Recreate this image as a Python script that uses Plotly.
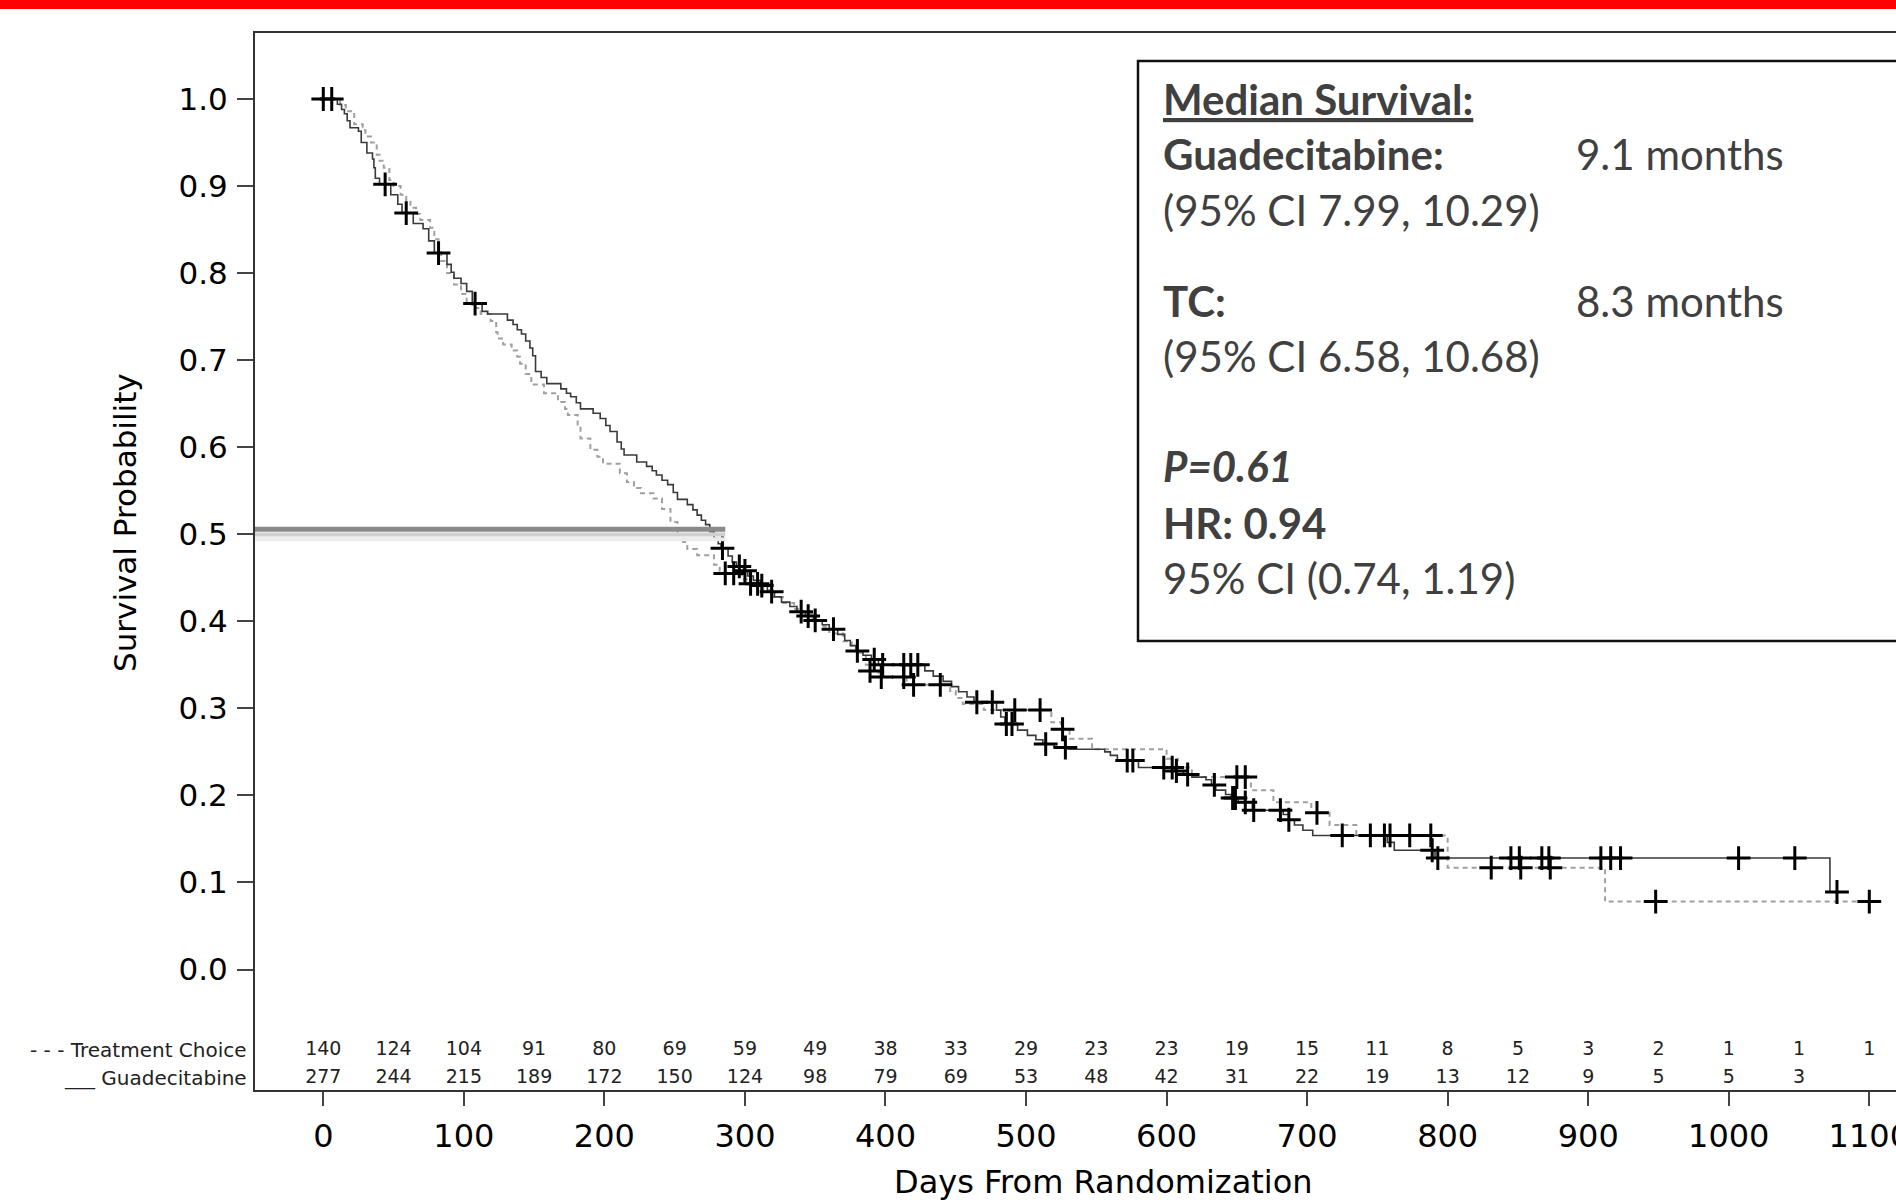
import plotly.graph_objects as go

# ---------------- data ----------------
GUAD_T = [0, 10, 13, 15, 17, 19, 25, 27, 31, 35, 36, 37, 40, 48, 53, 56, 64, 71, 75, 79,
          88, 91, 93, 98, 102, 106, 113, 117, 131, 135, 138, 141, 144, 147, 149, 151, 155, 159,
          169, 173, 176, 180, 183, 192, 197, 201, 204, 209, 212, 214, 223, 230, 234, 237, 241,
          245, 249, 252, 259, 263, 266, 269, 272, 275, 278, 281, 283, 288, 291, 294, 299, 302,
          306, 311, 316, 321, 326, 332, 337, 343, 349, 355, 360, 366, 371, 375, 379, 384, 390,
          395, 428, 434, 441, 447, 452, 458, 463, 479, 482, 485, 494, 501, 507, 512, 520, 530,
          556, 560, 565, 580, 606, 612, 618, 628, 632, 635, 642, 646, 651, 661, 683, 687, 691,
          697, 704, 757, 762, 791, 1072]
GUAD_S = [1.000, 0.994, 0.988, 0.983, 0.975, 0.967, 0.963, 0.950, 0.938, 0.931, 0.921, 0.909,
          0.902, 0.890, 0.879, 0.869, 0.857, 0.851, 0.837, 0.823, 0.810, 0.801, 0.794, 0.788,
          0.779, 0.765, 0.756, 0.753, 0.746, 0.741, 0.735, 0.730, 0.722, 0.714, 0.705, 0.687,
          0.680, 0.673, 0.667, 0.662, 0.658, 0.651, 0.644, 0.639, 0.633, 0.625, 0.618, 0.606,
          0.598, 0.591, 0.583, 0.578, 0.573, 0.568, 0.562, 0.557, 0.548, 0.540, 0.534, 0.528,
          0.522, 0.516, 0.511, 0.503, 0.495, 0.489, 0.484, 0.475, 0.468, 0.463, 0.458, 0.452,
          0.447, 0.441, 0.434, 0.428, 0.422, 0.417, 0.411, 0.406, 0.401, 0.396, 0.391, 0.385,
          0.378, 0.372, 0.366, 0.361, 0.356, 0.350, 0.343, 0.337, 0.331, 0.325, 0.319, 0.313,
          0.307, 0.298, 0.290, 0.282, 0.275, 0.269, 0.264, 0.259, 0.255, 0.253, 0.250, 0.246,
          0.240, 0.232, 0.228, 0.224, 0.221, 0.218, 0.212, 0.206, 0.201, 0.197, 0.192, 0.183,
          0.178, 0.172, 0.166, 0.160, 0.154, 0.146, 0.137, 0.128, 0.089]
GUAD_END = 1077
GUAD_CENSOR = [6, 44, 59, 82, 108, 284, 296, 300, 312, 319, 340, 345, 350, 363, 380, 392, 398,
               413, 418, 423, 465, 476, 486, 490, 514, 528, 572, 576, 598, 604, 607, 615, 634,
               647, 649, 656, 662, 681, 687, 725, 745, 755, 789, 793, 845, 851, 867, 872, 909,
               916, 923, 1007, 1047, 1077]

TC_T = [0, 12, 16, 22, 28, 30, 34, 38, 40, 43, 47, 50, 55, 59, 62, 66, 69, 76, 79, 82, 84, 88,
        93, 98, 102, 106, 112, 119, 123, 124, 128, 134, 138, 140, 144, 148, 157, 167, 172, 174,
        181, 183, 190, 195, 199, 211, 216, 221, 226, 235, 241, 247, 252, 256, 259, 266, 278,
        282, 285, 298, 303, 313, 320, 327, 335, 341, 348, 356, 360, 370, 376, 380, 386, 389,
        395, 415, 446, 450, 455, 470, 518, 525, 531, 547, 600, 608, 618, 660, 676, 703, 716,
        735, 800, 912]
TC_S = [1.000, 0.993, 0.986, 0.971, 0.964, 0.957, 0.950, 0.936, 0.929, 0.921, 0.907, 0.900,
        0.890, 0.882, 0.875, 0.868, 0.861, 0.852, 0.839, 0.826, 0.814, 0.800, 0.787, 0.776,
        0.765, 0.760, 0.753, 0.745, 0.732, 0.725, 0.718, 0.711, 0.704, 0.696, 0.684, 0.672,
        0.662, 0.652, 0.644, 0.637, 0.624, 0.610, 0.597, 0.589, 0.581, 0.570, 0.560, 0.553,
        0.547, 0.541, 0.529, 0.514, 0.499, 0.491, 0.483, 0.476, 0.465, 0.458, 0.455, 0.448,
        0.443, 0.436, 0.428, 0.421, 0.414, 0.409, 0.401, 0.394, 0.386, 0.377, 0.370, 0.364,
        0.350, 0.343, 0.336, 0.327, 0.320, 0.312, 0.305, 0.298, 0.284, 0.276, 0.265, 0.253,
        0.242, 0.232, 0.221, 0.206, 0.192, 0.180, 0.166, 0.154, 0.117, 0.078]
TC_END = 1100
TC_CENSOR = [0, 286, 292, 304, 309, 389, 397, 413, 420, 439, 492, 510, 526, 650, 656, 707, 759,
             773, 788, 831, 852, 873, 948, 1100]

RISK_DAYS_TC = list(range(0, 1101, 50))
RISK_TC = [140, 124, 104, 91, 80, 69, 59, 49, 38, 33, 29, 23, 23, 19, 15, 11, 8, 5, 3, 2, 1, 1, 1]
RISK_DAYS_GUAD = list(range(0, 1051, 50))
RISK_GUAD = [277, 244, 215, 189, 172, 150, 124, 98, 79, 69, 53, 48, 42, 31, 22, 19, 13, 12, 9, 5, 5, 3]

X_TICKS = list(range(0, 1101, 100))
Y_TICKS = [i / 10 for i in range(11)]

MEDIAN_LEVEL = 0.5057
MEDIAN_END_DAY = 286

# ---------------- layout geometry ----------------
W, H = 1896, 1203
ML, MR, MT, MB = 255, 0, 33, 113
PW, PH = W - ML - MR, H - MT - MB
X_RANGE = [-48.6, 1119.0]
Y_RANGE = [-0.13843, 1.07581]
ROW_TC_Y = -0.0925
ROW_GUAD_Y = -0.1246


def pxx(xp):
    return (xp - ML) / PW


def pxy(yp):
    return (H - MB - yp) / PH


def step_value(ts, ss, t):
    v = ss[0]
    for ti, si in zip(ts, ss):
        if ti <= t:
            v = si
        else:
            break
    return v


AX_FONT = "DejaVu Sans"
BOX_FONT = "Lato"
BOX_COLOR = "#404040"

fig = go.Figure()

fig.add_trace(go.Scatter(
    x=TC_T + [TC_END], y=TC_S + [TC_S[-1]], mode="lines",
    line=dict(shape="hv", color="#a0a0a0", width=2, dash="5px,4px"),
    showlegend=False, hoverinfo="skip"))
fig.add_trace(go.Scatter(
    x=GUAD_T + [GUAD_END], y=GUAD_S + [GUAD_S[-1]], mode="lines",
    line=dict(shape="hv", color="#3a3a3a", width=1.6),
    showlegend=False, hoverinfo="skip"))

cens_x = TC_CENSOR + GUAD_CENSOR
cens_y = [step_value(TC_T, TC_S, t) for t in TC_CENSOR] + \
         [step_value(GUAD_T, GUAD_S, t) for t in GUAD_CENSOR]
fig.add_trace(go.Scatter(
    x=cens_x, y=cens_y, mode="markers",
    marker=dict(symbol="cross-thin", size=17, line=dict(color="#000000", width=3)),
    showlegend=False, hoverinfo="skip"))

fig.add_trace(go.Scatter(
    x=RISK_DAYS_TC, y=[ROW_TC_Y] * len(RISK_TC), mode="text",
    text=[str(v) for v in RISK_TC], textfont=dict(family=AX_FONT, size=19, color="#222"),
    showlegend=False, hoverinfo="skip"))
fig.add_trace(go.Scatter(
    x=RISK_DAYS_GUAD, y=[ROW_GUAD_Y] * len(RISK_GUAD), mode="text",
    text=[str(v) for v in RISK_GUAD], textfont=dict(family=AX_FONT, size=19, color="#222"),
    showlegend=False, hoverinfo="skip"))

shapes = [
    # red banner
    dict(type="rect", xref="paper", yref="paper", x0=pxx(-10), x1=pxx(W + 10),
         y0=pxy(9), y1=pxy(-5), fillcolor="#ff0000", line=dict(width=0), layer="above"),
    # median line shadow + bar
    dict(type="line", xref="x", yref="y", x0=X_RANGE[0], x1=MEDIAN_END_DAY,
         y0=MEDIAN_LEVEL - 0.0115, y1=MEDIAN_LEVEL - 0.0115,
         line=dict(color="#ececec", width=4), layer="above"),
    dict(type="line", xref="x", yref="y", x0=X_RANGE[0], x1=MEDIAN_END_DAY,
         y0=MEDIAN_LEVEL - 0.006, y1=MEDIAN_LEVEL - 0.006,
         line=dict(color="#d0d0d0", width=4), layer="above"),
    dict(type="line", xref="x", yref="y", x0=X_RANGE[0], x1=MEDIAN_END_DAY,
         y0=MEDIAN_LEVEL, y1=MEDIAN_LEVEL,
         line=dict(color="#8a8a8a", width=5), layer="above"),
    # stats box
    dict(type="rect", xref="paper", yref="paper", x0=pxx(1138), x1=pxx(W + 20),
         y0=pxy(641), y1=pxy(61), fillcolor="rgba(255,255,255,0)",
         line=dict(color="#111111", width=2.5), layer="above"),
]

annotations = [
    dict(text="- - - Treatment Choice", xref="paper", yref="y", x=pxx(249), y=ROW_TC_Y,
         xanchor="right", yanchor="middle", showarrow=False,
         font=dict(family=AX_FONT, size=20, color="#222")),
    dict(text="___ Guadecitabine", xref="paper", yref="y", x=pxx(249), y=ROW_GUAD_Y,
         xanchor="right", yanchor="middle", showarrow=False,
         font=dict(family=AX_FONT, size=20, color="#222")),
    # axis titles
    dict(text="Survival Probability", xref="paper", yref="paper", x=pxx(125), y=pxy(523),
         xanchor="center", yanchor="middle", textangle=-90, showarrow=False,
         font=dict(family=AX_FONT, size=31, color="#000")),
    dict(text="Days From Randomization", xref="paper", yref="paper", x=pxx(1103), y=pxy(1182),
         xanchor="center", yanchor="middle", showarrow=False,
         font=dict(family=AX_FONT, size=32, color="#000")),
]

BOX_FS = 42
box_lines = [
    ("<b>Median Survival:</b>", 1161, 99, True),
    ("<b>Guadecitabine:</b>", 1161, 154, False),
    ("9.1 months", 1574, 154, False),
    ("(95% CI 7.99, 10.29)", 1161, 210, False),
    ("<b>TC:</b>", 1161, 301, False),
    ("8.3 months", 1574, 301, False),
    ("(95% CI 6.58, 10.68)", 1161, 356, False),
    ("<b><i>P=0.61</i></b>", 1161, 466, False),
    ("<b>HR: 0.94</b>", 1161, 523, False),
    ("95% CI (0.74, 1.19)", 1161, 578, False),
]
for txt, xp, yp, under in box_lines:
    f = dict(family=BOX_FONT, size=BOX_FS, color=BOX_COLOR)
    if under:
        f["lineposition"] = "under"
    annotations.append(dict(text=txt, xref="paper", yref="paper", x=pxx(xp), y=pxy(yp),
                            xanchor="left", yanchor="middle", showarrow=False, font=f))

fig.update_layout(
    width=W, height=H,
    margin=dict(l=ML, r=MR, t=MT, b=MB, pad=0, autoexpand=False),
    paper_bgcolor="white", plot_bgcolor="white",
    shapes=shapes, annotations=annotations,
    xaxis=dict(
        range=X_RANGE, tickvals=X_TICKS, ticks="outside", ticklen=14, tickwidth=1.5,
        tickcolor="#444", showline=True, linecolor="#333", linewidth=2, mirror=True,
        showgrid=False, zeroline=False, ticklabelstandoff=3, ticklabeloverflow="allow",
        automargin=False,
        tickfont=dict(family=AX_FONT, size=32, color="#000"),
    ),
    yaxis=dict(
        range=Y_RANGE, tickvals=Y_TICKS, tickformat=".1f", ticks="outside", ticklen=16,
        tickwidth=1.5, tickcolor="#444", showline=True, linecolor="#333", linewidth=2,
        mirror=False, showgrid=False, zeroline=False, ticklabelstandoff=3,
        automargin=False,
        tickfont=dict(family=AX_FONT, size=31, color="#000"),
    ),
)

fig.write_html(
    "out.html",
    config={"displayModeBar": False},
    post_script="document.body.style.margin='0';document.body.style.overflow='hidden';",
)
